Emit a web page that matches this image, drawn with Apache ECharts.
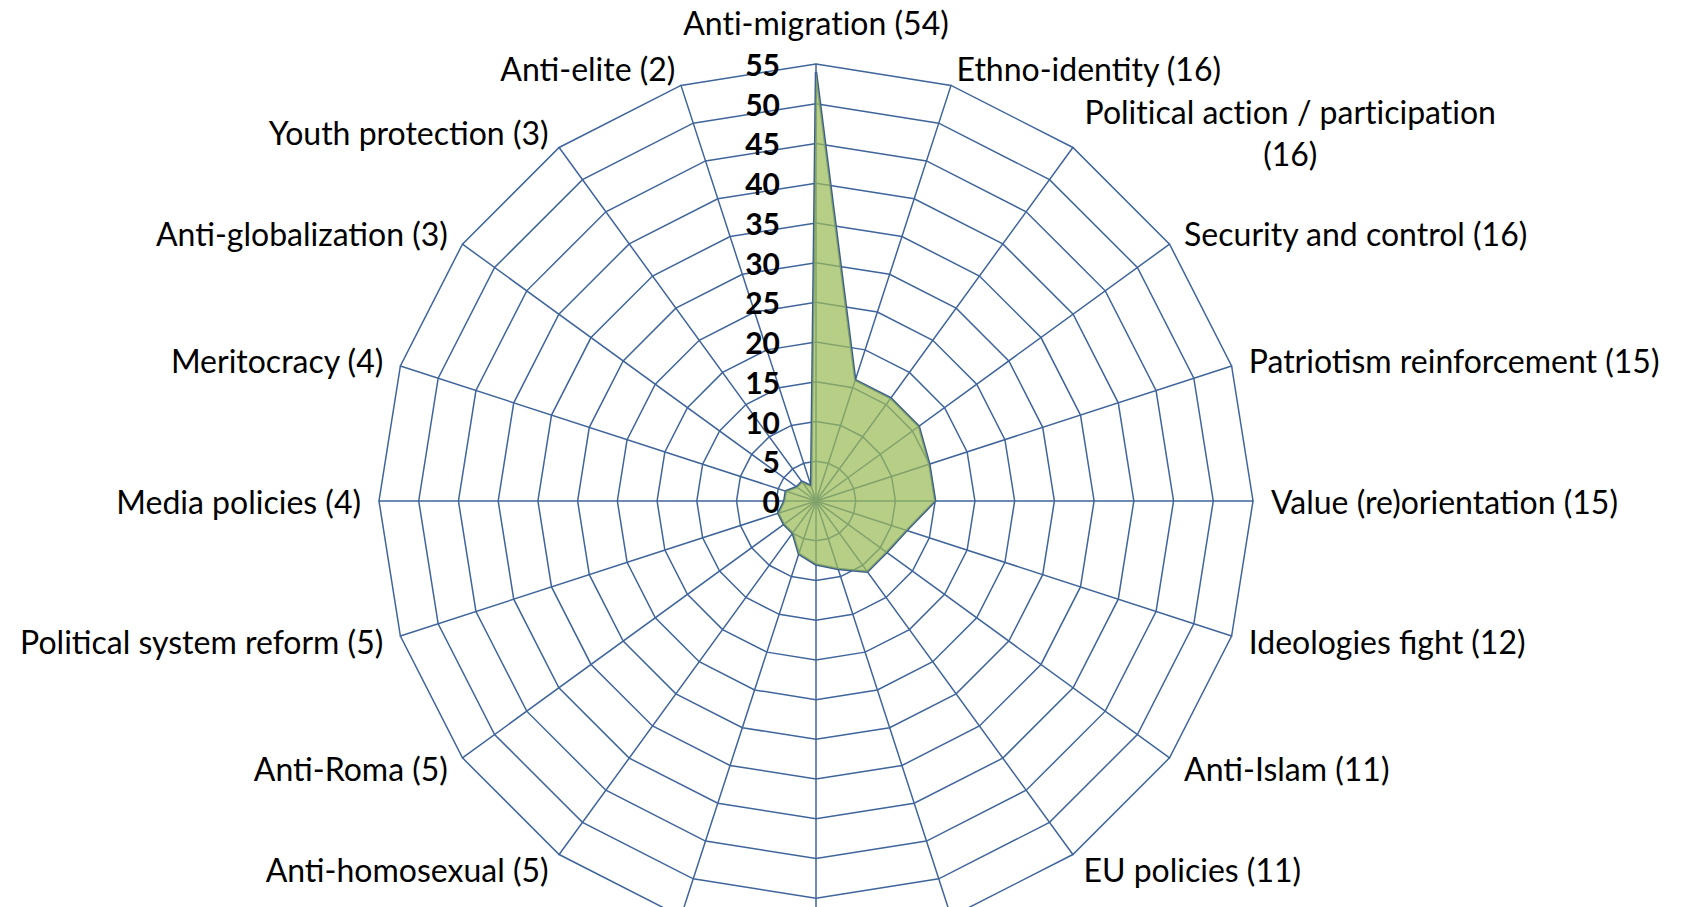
<!DOCTYPE html>
<html>
<head>
<meta charset="utf-8">
<script src="https://cdn.jsdelivr.net/npm/echarts@6/dist/echarts.min.js"></script>
<style>
html, body { margin: 0; padding: 0; background: #fff; }
#main { width: 1683px; height: 907px; }
#main text { font-variant-ligatures: none; }
</style>
</head>
<body>
<div id="main"></div>
<script>
// topics, clockwise from the top; the three at the bottom are cut off in the source, names unknown
var topics = ['Anti-migration', 'Ethno-identity', 'Political action / participation', 'Security and control',
	'Patriotism reinforcement', 'Value (re)orientation', 'Ideologies fight', 'Anti-Islam', 'EU policies',
	'', '', '',
	'Anti-homosexual', 'Anti-Roma', 'Political system reform', 'Media policies', 'Meritocracy',
	'Anti-globalization', 'Youth protection', 'Anti-elite'];
var counts = [54, 16, 16, 16, 15, 15, 12, 11, 11, 9, 8, 7, 5, 5, 5, 4, 4, 3, 3, 2];
var scaleMax = 55;
var scaleSteps = 11;

var gridBlue = '#3f659c';
var font = 'Lato';
var nameSize = 32;

// echarts lays indicators out anti-clockwise, so walk the list backwards after the first one
var order = [0];
for (var i = topics.length - 1; i > 0; i--) order.push(i);

var indicators = [];
var values = [];
for (var k = 0; k < order.length; k++) {
	var idx = order[k];
	var label = topics[idx] ? topics[idx] + ' (' + counts[idx] + ')' : '';
	var ind = { name: label, min: 0, max: scaleMax };
	if (k == 0) {
		ind.axisLabel = {
			show: true,
			fontFamily: font,
			fontWeight: 'bold',
			fontSize: 30,
			color: '#000',
			margin: 36
		};
	}
	indicators.push(ind);
	values.push(counts[idx]);
}

var chart = echarts.init(document.getElementById('main'), null, { renderer: 'svg' });

chart.setOption({
	backgroundColor: '#fff',
	animation: false,
	radar: {
		center: [816, 501],
		radius: 437,
		startAngle: 90,
		shape: 'polygon',
		splitNumber: scaleSteps,
		nameGap: 18,
		indicator: indicators,
		axisName: {
			color: '#000',
			fontFamily: font,
			fontSize: nameSize,
			formatter: function (name) {
				if (!name) return '';
				if (name.indexOf(topics[0]) == 0) {
					return '{t|' + name + '}';
				}
				if (name.length > 32) {
					var cut = name.lastIndexOf(' (');
					return '{c|' + name.slice(0, cut) + '}\n{c|' + name.slice(cut + 1) + '}';
				}
				return name;
			},
			rich: {
				t: { fontFamily: font, fontSize: nameSize, color: '#000', padding: [0, 0, 8, 0] },
				c: { align: 'center', fontFamily: font, fontSize: nameSize, color: '#000', lineHeight: 42 }
			}
		},
		axisLine: { lineStyle: { color: gridBlue, width: 1.5 } },
		splitLine: { lineStyle: { color: gridBlue, width: 1.5 } },
		splitArea: { show: false },
		axisTick: { show: false },
		axisLabel: { show: false }
	},
	series: [{
		type: 'radar',
		symbol: 'none',
		lineStyle: { color: '#3a5d90', width: 2.5 },
		areaStyle: { color: '#9bbb59', opacity: 0.72 },
		data: [{ value: values, name: 'Topics' }]
	}]
});
</script>
</body>
</html>
